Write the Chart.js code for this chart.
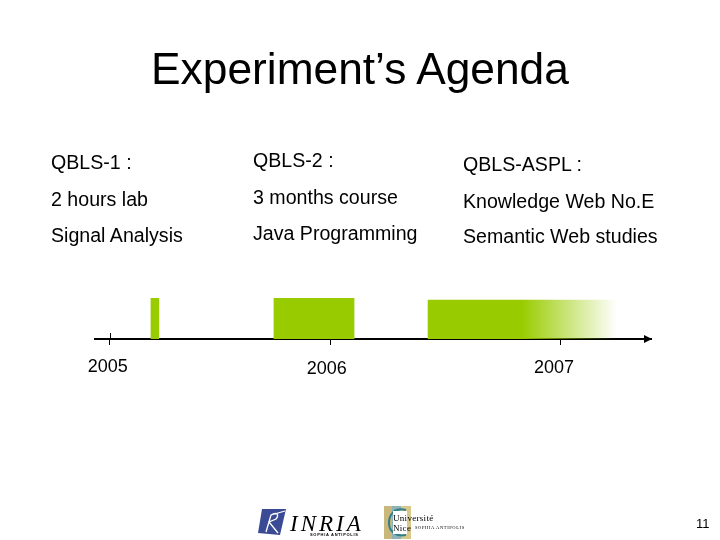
<!DOCTYPE html>
<html>
<head>
<meta charset="utf-8">
<title>Experiment's Agenda</title>
<script src="https://cdn.jsdelivr.net/npm/chart.js@4/dist/chart.umd.min.js"></script>
<style>
    html, body { margin: 0; padding: 0; background: #fff; }
    #slide { position: relative; width: 720px; height: 540px; overflow: hidden; font-family: "Liberation Sans", Arial, sans-serif; color: #000; }
    #slide canvas { position: absolute; left: 0; top: 0; }
    .txt { position: absolute; white-space: pre; line-height: 1; }
    h1 { position: absolute; left: 0; width: 720px; top: 47px; margin: 0; text-align: center; font-size: 44.3px; font-weight: normal; line-height: 1; }
    .item { font-size: 19.6px; }
    svg { position: absolute; }
</style>
</head>
<body>
<div id="slide">
    <canvas id="timeline" width="720" height="540"></canvas>
    <h1>Experiment’s Agenda</h1>
    <div id="columns"></div>

    <!-- logos -->
    <svg style="left:258px;top:508px" width="29" height="28" viewBox="0 0 29 28">
        <path d="M4 1 L28 1 L22 27 L0 25 Z" fill="#3a4a94"/>
        <path d="M8 24 L13 7 C18 4 22 6 18 11 L11 14 L20 25 M13 7 L27 3" fill="none" stroke="#fff" stroke-width="1.3"/>
    </svg>
    <div class="txt" style="left:290px;top:511px;font:italic 23px 'Liberation Serif',serif;letter-spacing:3px">INRIA</div>
    <div class="txt" style="left:310px;top:532px;font:bold 4px 'Liberation Sans',sans-serif;letter-spacing:.7px">SOPHIA ANTIPOLIS</div>
    <svg style="left:384px;top:506px" width="28" height="33" viewBox="0 0 28 33">
        <rect x="0" y="0" width="27" height="33" fill="#8fb3b5"/>
        <rect x="17" y="0" width="10" height="33" fill="#d8c98a"/>
        <rect x="0" y="0" width="8" height="33" fill="#c9b77c"/>
        <path d="M22 4 C10 1 5 9 5 17 C5 25 11 31 22 29" fill="none" stroke="#2f7f8c" stroke-width="2"/>
        <rect x="9" y="5" width="14" height="23" fill="#fff"/>
    </svg>
    <div class="txt" style="left:393px;top:513px;font:9px 'Liberation Serif',serif;letter-spacing:.3px">Université</div>
    <div class="txt" style="left:393px;top:523px;font:9px 'Liberation Serif',serif;letter-spacing:.3px">Nice</div>
    <div class="txt" style="left:415px;top:525px;font:4.5px 'Liberation Serif',serif;letter-spacing:.6px">SOPHIA ANTIPOLIS</div>

    <div class="txt" style="left:696px;top:517px;font-size:13px">11</div>
</div>

<script>
// Slide text, one list per column
const col1 = ['QBLS-1 :', '2 hours lab', 'Signal Analysis'];
const col2 = ['QBLS-2 :', '3 months course', 'Java Programming'];
const col3 = ['QBLS-ASPL :', 'Knowledge Web No.E', 'Semantic Web studies'];

// Timeline values, in years
const periods = ['QBLS-1', 'QBLS-2', 'QBLS-ASPL'];
const periodStart = [2005.183, 2005.728, 2006.411];
const periodEnd = [2005.218, 2006.083, 2007.248];
const fadeStart = 2006.827; // QBLS-ASPL stays solid up to here, then fades out

const tickValues = [2005, 2005.98, 2007];
const tickLabels = ['2005', '2006', '2007'];

const GREEN = '#99cc00';

function placeColumn(lines, left, tops) {
    lines.forEach((line, i) => {
        const el = document.createElement('div');
        el.className = 'txt item';
        el.style.left = left + 'px';
        el.style.top = tops[i] + 'px';
        el.textContent = line;
        document.getElementById('columns').appendChild(el);
    });
}
placeColumn(col1, 51, [153, 190, 226]);
placeColumn(col2, 253, [151, 188, 224]);
placeColumn(col3, 463, [155, 192, 227]);

// Gradient for the last period, it has no known end yet
function fadeFill(ctx) {
    const x = ctx.chart.scales.x;
    const x0 = x ? x.getPixelForValue(fadeStart) : NaN;
    const x1 = x ? x.getPixelForValue(periodEnd[2]) : NaN;
    if (!isFinite(x0) || !isFinite(x1)) return GREEN;
    const g = ctx.chart.ctx.createLinearGradient(x0, 0, x1, 0);
    g.addColorStop(0, GREEN);
    g.addColorStop(1, 'rgba(153,204,0,0)');
    return g;
}

// Arrow head, the taller 2005 tick and the year labels (each sits a bit off its tick)
const axisExtras = {
    id: 'axisExtras',
    afterDraw(chart) {
        const { ctx, scales: { x, y } } = chart;
        const axisY = y.getPixelForValue(0);
        ctx.save();
        ctx.fillStyle = '#000';
        ctx.beginPath();
        ctx.moveTo(x.right + 1, axisY);
        ctx.lineTo(x.right - 7, axisY - 4);
        ctx.lineTo(x.right - 7, axisY + 4);
        ctx.closePath();
        ctx.fill();

        ctx.strokeStyle = '#000';
        ctx.lineWidth = 1;
        const x2005 = Math.round(x.getPixelForValue(tickValues[0])) + 0.5;
        ctx.beginPath();
        ctx.moveTo(x2005, axisY - 6);
        ctx.lineTo(x2005, axisY);
        ctx.stroke();

        const offsetX = [-2, -4, -7];
        const labelY = [367, 369, 368];
        ctx.font = '18px "Liberation Sans", Arial, sans-serif';
        ctx.textAlign = 'center';
        ctx.textBaseline = 'middle';
        tickLabels.forEach((label, i) => {
            ctx.fillText(label, x.getPixelForValue(tickValues[i]) + offsetX[i], labelY[i]);
        });
        ctx.restore();
    }
};

new Chart(document.getElementById('timeline'), {
    type: 'bar',
    plugins: [axisExtras],
    data: {
        datasets: [{
            label: periods[0],
            data: [{ x: [periodStart[0], periodEnd[0]], y: 0.5 }],
            backgroundColor: GREEN,
            barThickness: 41
        }, {
            label: periods[1],
            data: [{ x: [periodStart[1], periodEnd[1]], y: 0.5 }],
            backgroundColor: GREEN,
            barThickness: 41
        }, {
            label: periods[2],
            data: [{ x: [periodStart[2], periodEnd[2]], y: 0.475 }],
            backgroundColor: fadeFill,
            barThickness: 39
        }]
    },
    options: {
        indexAxis: 'y',
        grouped: false,
        responsive: false,
        animation: false,
        devicePixelRatio: 1,
        layout: { padding: { left: 95, right: 69, top: 298, bottom: 195 } },
        plugins: { legend: { display: false }, title: { display: false }, tooltip: { enabled: false } },
        scales: {
            x: {
                type: 'linear',
                min: 2004.935,
                max: 2007.399,
                afterBuildTicks: axis => { axis.ticks = tickValues.map(value => ({ value })); },
                grid: { drawOnChartArea: false, drawTicks: true, tickLength: 6, tickColor: '#000', tickWidth: 1 },
                border: { display: true, color: '#000', width: 2 },
                ticks: { display: false }
            },
            y: {
                type: 'linear',
                min: 0,
                max: 1,
                offset: false,
                display: false,
                grid: { display: false }
            }
        }
    }
});
</script>
</body>
</html>
